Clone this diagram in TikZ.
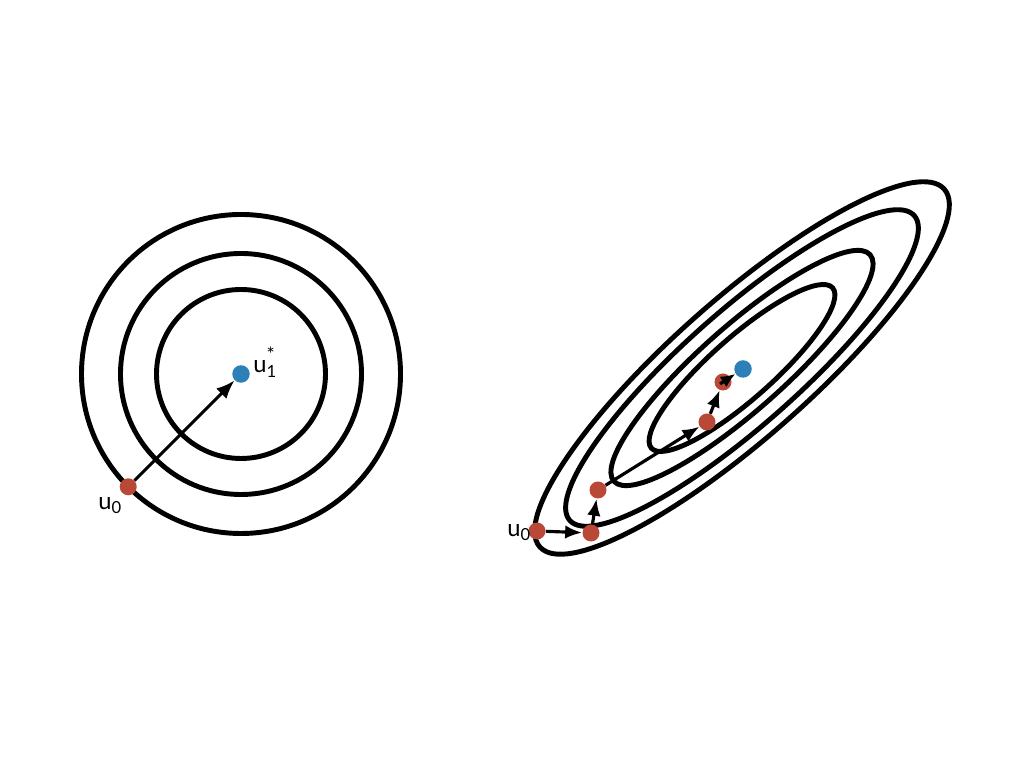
\documentclass[tikz,border=0pt]{standalone}
\usepackage{fontspec}
\setmainfont{Lato}
\usetikzlibrary{positioning,calc,arrows.meta}
\definecolor{iterred}{RGB}{185,72,54}
\definecolor{minblue}{RGB}{44,128,184}

\begin{document}
\begin{tikzpicture}[
  >={Latex[length=0.34cm,width=0.27cm]},
  ring/.style={line width=2.8pt},
  stepline/.style={->,line width=1.8pt},
  iter/.style={circle,fill=iterred,inner sep=0pt,minimum size=0.34cm},
  opt/.style={circle,fill=minblue,inner sep=0pt,minimum size=0.35cm},
  lbl/.style={anchor=base west,inner sep=0pt,font=\fontsize{13.5}{16}\selectfont}
]
\useasboundingbox (0,0) rectangle (20.48,15.36);

% round bowl
\coordinate (lc) at (4.82,7.88);
\foreach \r in {3.19,2.41,1.69}{
  \draw[ring] (lc) circle (\r);
}
\node[iter] (lstart) at ($(lc)+(225:3.19)$) {};
\node[opt] (lmin) at (lc) {};
\draw[stepline,>={Latex[length=0.37cm,width=0.29cm]}] (lstart) -- (lmin);
\node[lbl] at (1.96,5.16) {u\textsubscript{0}};
\node[lbl] at (5.06,7.90) {u\rlap{\raisebox{0.95ex}{\fontsize{11}{11}\selectfont *}}\raisebox{-0.35ex}{\fontsize{9.5}{10}\selectfont 1}};

% stretched bowl
\foreach \a/\b in {5.40/1.38,4.60/1.14,3.42/0.84,2.42/0.62}{
  \draw[ring,shift={(14.84,8.00)},rotate=41.5] (0,0) ellipse ({\a} and {\b});
}
\node[iter] (rstart) at (10.74,4.74) {};
\node[iter] (s1) at (11.82,4.70) {};
\node[iter] (s2) at (11.96,5.56) {};
\node[iter] (s3) at (14.14,6.92) {};
\node[iter] (s4) at (14.46,7.72) {};
\node[opt] (rmin) at (14.86,7.98) {};
\draw[stepline] (rstart) -- (s1);
\draw[stepline] (s1) -- (s2);
\draw[stepline] (s2) -- (s3);
\draw[stepline] (s3) -- (s4);
\draw[stepline,shorten <=-2pt,>={Latex[length=0.29cm,width=0.25cm]}] (s4.center) -- (rmin);
\node[lbl] at (10.14,4.62) {u\textsubscript{0}};
\end{tikzpicture}
\end{document}
